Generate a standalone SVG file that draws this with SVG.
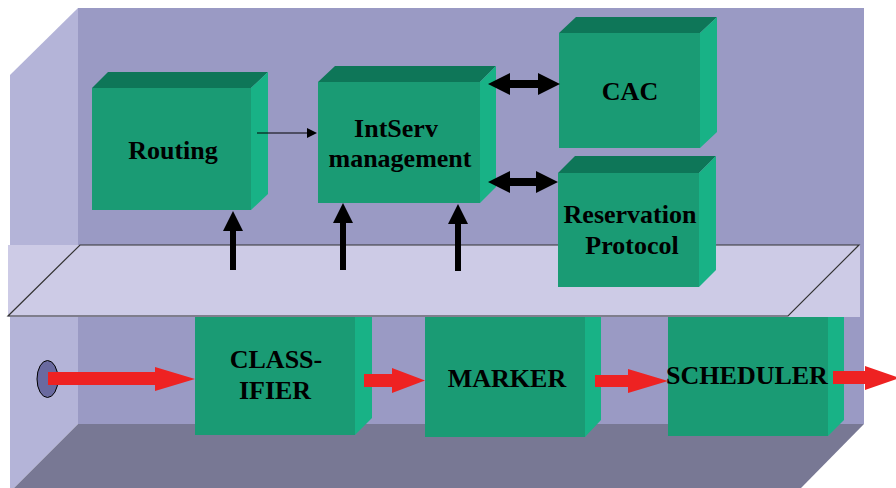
<svg xmlns="http://www.w3.org/2000/svg" width="896" height="488" viewBox="0 0 896 488">
  <style>
    .front { fill: #1A9B74; }
    .top { fill: #0E7658; }
    .side { fill: #18B286; }
    .label { font-family: "Liberation Serif", "Times New Roman", serif; font-weight: bold; font-size: 26px; fill: #000; text-anchor: middle; }
    .flow { fill: #EE2222; }
    .ctl { fill: #000; }
  </style>

  <!-- room: back wall, left wall, floor -->
  <g id="room">
    <rect x="78" y="8" width="786" height="416" fill="#9A9AC4"/>
    <polygon points="10,75 78,8 78,424 14,488 10,488" fill="#B4B4D8"/>
    <polygon points="78,424 864,424 801,488 14,488" fill="#787894"/>
  </g>

  <!-- data-plane boxes below the shelf -->
  <g id="classifier">
    <rect class="front" x="195" y="317" width="160" height="118"/>
    <polygon class="side" points="355,317 372,317 372,418 355,435"/>
    <text class="label" x="276" y="368">CLASS-</text>
    <text class="label" x="275" y="399">IFIER</text>
  </g>
  <g id="marker">
    <rect class="front" x="425" y="317" width="160" height="120"/>
    <polygon class="side" points="585,317 601,317 601,420 585,437"/>
  </g>
  <g id="scheduler">
    <rect class="front" x="668" y="317" width="160" height="119"/>
    <polygon class="side" points="828,317 844,317 844,420 828,436"/>
  </g>

  <!-- packet entry point -->
  <g id="port">
    <ellipse cx="47.5" cy="379" rx="10.5" ry="18.5" fill="#6A6AA0" stroke="#000" stroke-width="1"/>
  </g>

  <!-- shelf separating control plane from data plane -->
  <g id="shelf">
    <rect x="8" y="245" width="852" height="72" fill="#CDCBE6"/>
    <polygon points="80,245 859,245 788,316 8,316" fill="none" stroke="#333" stroke-width="1.2"/>
  </g>

  <!-- control-plane boxes -->
  <g id="routing">
    <polygon class="top" points="92,88 108,72 268,72 251,88"/>
    <polygon class="side" points="251,88 268,72 268,194 251,210"/>
    <rect class="front" x="92" y="88" width="159" height="122"/>
    <text class="label" x="173" y="159">Routing</text>
  </g>
  <g id="intserv">
    <polygon class="top" points="318,82 335,66 496,66 480,82"/>
    <polygon class="side" points="480,82 496,66 496,187 480,203"/>
    <rect class="front" x="318" y="82" width="162" height="121"/>
    <text class="label" x="396" y="137">IntServ</text>
    <text class="label" x="400" y="167">management</text>
  </g>
  <g id="cac">
    <polygon class="top" points="559,33 576,17 717,17 700,33"/>
    <polygon class="side" points="700,33 717,17 717,132 700,148"/>
    <rect class="front" x="559" y="33" width="141" height="115"/>
    <text class="label" x="630" y="100">CAC</text>
  </g>
  <g id="reservation">
    <polygon class="top" points="558,173 575,156 716,156 699,173"/>
    <polygon class="side" points="699,173 716,156 716,270 699,287"/>
    <rect class="front" x="558" y="173" width="141" height="114"/>
    <text class="label" x="630" y="223">Reservation</text>
    <text class="label" x="632" y="254">Protocol</text>
  </g>

  <!-- connectors -->
  <g id="connectors">
    <!-- packet flow -->
    <polygon class="flow" points="48,372 155,372 155,367 195,379 155,391 155,385 48,385"/>
    <polygon class="flow" points="364,374 392,374 392,368 425,380.5 392,393 392,387 364,387"/>
    <polygon class="flow" points="595,375 628,375 628,369 668,381 628,393 628,387 595,387"/>
    <polygon class="flow" points="833,371 865,371 865,366 900,378 865,390 865,384 833,384"/>
    <!-- signalling up from the data plane -->
    <polygon class="ctl" points="230,270 236,270 236,231 243,231 233,211 223,231 230,231"/>
    <polygon class="ctl" points="340,270 346,270 346,223 353,223 343,203 333,223 340,223"/>
    <polygon class="ctl" points="455,271 461,271 461,224 468,224 458,204 448,224 455,224"/>
    <!-- IntServ <-> CAC, Reservation Protocol -->
    <polygon class="ctl" points="488,84 510,73 510,80 538,80 538,73 560,84 538,95 538,88 510,88 510,95"/>
    <polygon class="ctl" points="488,182 510,171 510,178 536,178 536,171 558,182 536,193 536,186 510,186 510,193"/>
    <!-- routing -> IntServ -->
    <line x1="257" y1="133" x2="308" y2="133" stroke="#000" stroke-width="1"/>
    <polygon class="ctl" points="307,128 317,133 307,138"/>
  </g>

  <!-- data-plane labels drawn over the flow arrows -->
  <g id="data-labels">
    <text class="label" x="507" y="387">MARKER</text>
    <text class="label" x="747" y="384">SCHEDULER</text>
  </g>
</svg>
